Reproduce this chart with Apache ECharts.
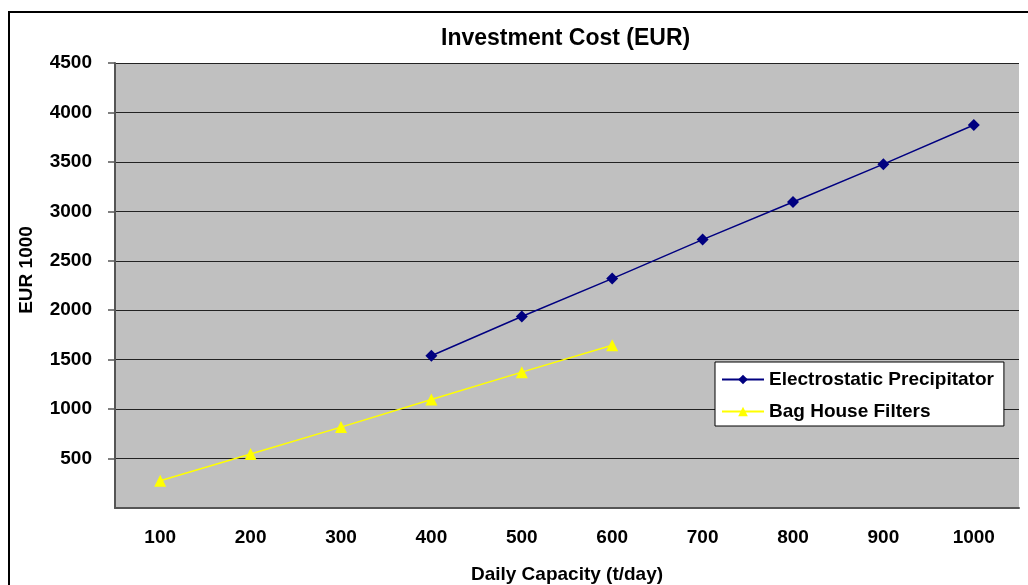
<!DOCTYPE html>
<html>
<head>
<meta charset="utf-8">
<script src="https://cdn.jsdelivr.net/npm/echarts@6/dist/echarts.min.js"></script>
<style>
  html, body { margin: 0; padding: 0; background: #fff; }
  #chart { width: 1028px; height: 585px; }
</style>
</head>
<body>
<div id="chart"></div>
<script>
const capacities = ["100", "200", "300", "400", "500", "600", "700", "800", "900", "1000"];
const electrostatic = [null, null, null, 1540, 1937, 2320, 2714, 3095, 3477, 3873];
const bagHouse = [276, 546, 818, 1097, 1374, 1645, null, null, null, null];

const chart = echarts.init(document.getElementById("chart"));
const font = "'Liberation Sans', Arial, sans-serif";

chart.setOption({
  animation: false,
  textStyle: { fontFamily: font },
  title: {
    text: "Investment Cost (EUR)",
    left: 436,
    top: 22,
    textStyle: { fontSize: 23, fontWeight: "bold", color: "#000", fontFamily: font },
  },
  graphic: [
    {
      type: "rect",
      shape: { x: 9, y: 12, width: 1040, height: 600 },
      style: { fill: "none", stroke: "#000", lineWidth: 2 },
      silent: true,
    },
  ],
  grid: {
    left: 115,
    right: 9,
    top: 63,
    bottom: 77,
    outerBoundsMode: "none",
    containLabel: false,
    show: true,
    backgroundColor: "#c0c0c0",
    borderWidth: 0,
  },
  legend: {
    orient: "vertical",
    left: 715,
    top: 362,
    backgroundColor: "#fff",
    borderColor: "#000",
    borderWidth: 1,
    borderRadius: 0,
    padding: [8, 10, 5, 6],
    itemWidth: 42,
    itemHeight: 12,
    itemGap: 13,
    textStyle: { fontSize: 19, fontWeight: "bold", color: "#000", fontFamily: font },
    data: ["Electrostatic Precipitator", "Bag House Filters"],
  },
  xAxis: {
    type: "category",
    data: capacities,
    name: "Daily Capacity (t/day)",
    nameLocation: "middle",
    nameGap: 57,
    nameTextStyle: { fontSize: 19, fontWeight: "bold", color: "#000" },
    axisLine: { lineStyle: { color: "#555", width: 2 } },
    axisTick: { length: 6, lineStyle: { color: "#555", width: 1.5 } },
    axisLabel: { margin: 20, fontSize: 19, fontWeight: "bold", color: "#000" },
  },
  yAxis: {
    type: "value",
    min: 0,
    max: 4500,
    interval: 500,
    name: "EUR 1000",
    nameLocation: "middle",
    nameGap: 79,
    nameTextStyle: { fontSize: 19, fontWeight: "bold", color: "#000", padding: [0, 0, 0, 31] },
    axisLine: { show: true, lineStyle: { color: "#555", width: 2 } },
    axisTick: { show: true, length: 7, lineStyle: { color: "#555", width: 1.5 } },
    axisLabel: {
      margin: 23,
      fontSize: 19,
      fontWeight: "bold",
      color: "#000",
      showMinLabel: false,
      formatter: (v) => String(v),
    },
    splitLine: { lineStyle: { color: "#222", width: 1.2 } },
  },
  series: [
    {
      name: "Electrostatic Precipitator",
      type: "line",
      data: electrostatic,
      symbol: "diamond",
      symbolSize: 12,
      color: "#000080",
      lineStyle: { color: "#000080", width: 1.5 },
      itemStyle: { color: "#000080" },
    },
    {
      name: "Bag House Filters",
      type: "line",
      data: bagHouse,
      symbol: "triangle",
      symbolSize: 12,
      color: "#ffff00",
      lineStyle: { color: "#ffff00", width: 1.5 },
      itemStyle: { color: "#ffff00" },
    },
  ],
});
</script>
</body>
</html>
